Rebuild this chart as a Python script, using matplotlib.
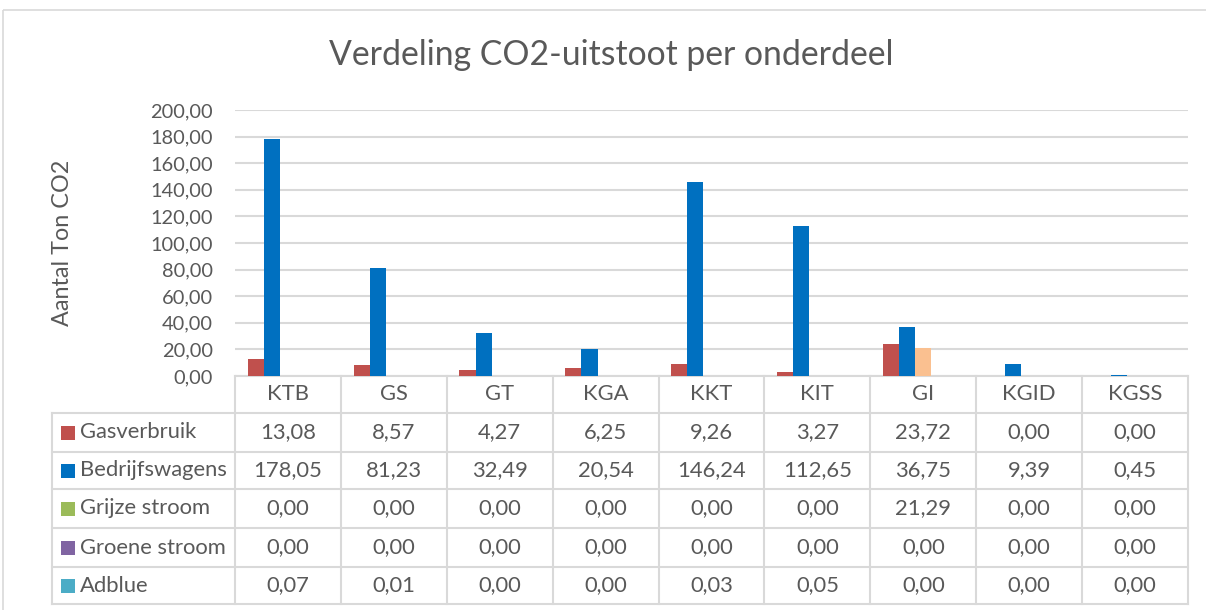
import matplotlib
matplotlib.use("Agg")
import matplotlib.pyplot as plt
from matplotlib.patches import Rectangle

categories = ["KTB", "GS", "GT", "KGA", "KKT", "KIT", "GI", "KGID", "KGSS"]
series_names = ["Gasverbruik", "Bedrijfswagens", "Grijze stroom", "Groene stroom", "Adblue"]
gasverbruik = [13.08, 8.57, 4.27, 6.25, 9.26, 3.27, 23.72, 0.00, 0.00]
bedrijfswagens = [178.05, 81.23, 32.49, 20.54, 146.24, 112.65, 36.75, 9.39, 0.45]
grijze_stroom = [0.00, 0.00, 0.00, 0.00, 0.00, 0.00, 21.29, 0.00, 0.00]
groene_stroom = [0.00, 0.00, 0.00, 0.00, 0.00, 0.00, 0.00, 0.00, 0.00]
adblue = [0.07, 0.01, 0.00, 0.00, 0.03, 0.05, 0.00, 0.00, 0.00]
yticks = [0, 20, 40, 60, 80, 100, 120, 140, 160, 180, 200]

series = [gasverbruik, bedrijfswagens, grijze_stroom, groene_stroom, adblue]
legend_colors = ["#C0504D", "#0070C0", "#9BBB59", "#8064A2", "#4BACC6"]
bar_colors = ["#C0504D", "#0070C0", "#FAC090", "#8064A2", "#4BACC6"]
TXT = "#595959"
GRID = "#D9D9D9"
FONT = "Lato"
FS = 15.8

W, H = 1206, 610
fig = plt.figure(figsize=(W / 100, H / 100), dpi=100)

def fx(px):
    return px / W

def fy(py):
    return 1 - py / H

# overlay axes in pixel coordinates for table and frame
ov = fig.add_axes([0, 0, 1, 1])
ov.set_xlim(0, W)
ov.set_ylim(H, 0)
ov.axis("off")
ov.add_patch(Rectangle((3, 10), W + 10, H + 10, fill=False, ec=GRID, lw=1.2))

# main plot axes
x0, x1 = 235, 1188
ytop, ybot = 110, 376
ax = fig.add_axes([fx(x0), fy(ybot), fx(x1) - fx(x0), fy(ytop) - fy(ybot)])
ax.set_zorder(2)
ax.patch.set_alpha(0)
n = len(categories)
bw = 0.152
for j, vals in enumerate(series):
    xs = [i + (j - 2) * bw for i in range(n)]
    ax.bar(xs, vals, width=bw, color=bar_colors[j], zorder=3, linewidth=0)
ax.set_xlim(-0.5, n - 0.5)
ax.set_ylim(0, 200)
ax.set_yticks(yticks)
ax.set_yticklabels([f"{v:.2f}".replace(".", ",") for v in yticks], fontsize=14.4,
                   color=TXT, family=FONT)
ax.set_xticks([])
ax.grid(axis="y", color=GRID, lw=1.5, zorder=0)
for s in ax.spines.values():
    s.set_visible(False)
ax.tick_params(axis="y", length=0, pad=16)
ax.set_ylabel("Aantal Ton CO2", fontsize=16.8, color=TXT, family=FONT)
ax.yaxis.set_label_coords((73 - x0) / (x1 - x0), 0.5)

fig.text(0.5 * (330 + 893) / W, fy(55), "Verdeling CO2-uitstoot per onderdeel", ha="center",
         va="center", fontsize=24.3, color=TXT, family=FONT)

# data table
tl = 52
row_tops = [376, 413, 452, 489, 528, 567, 604]
cw = (x1 - x0) / n
lc = dict(color=GRID, lw=1.5)
ov.plot([x0, x1], [row_tops[0], row_tops[0]], **lc)
for yy in row_tops[1:]:
    ov.plot([tl, x1], [yy, yy], **lc)
ov.plot([tl, tl], [row_tops[1], row_tops[-1]], **lc)
for i in range(n + 1):
    xx = x0 + i * cw
    ov.plot([xx, xx], [row_tops[0], row_tops[-1]], **lc)
for i, c in enumerate(categories):
    ov.text(x0 + (i + 0.5) * cw, (row_tops[0] + row_tops[1]) / 2, c, ha="center",
            va="center", fontsize=FS, color=TXT, family=FONT)
for r, (name, vals) in enumerate(zip(series_names, series)):
    yc = (row_tops[r + 1] + row_tops[r + 2]) / 2
    ov.add_patch(Rectangle((61, yc - 7), 14, 14, color=legend_colors[r], lw=0))
    ov.text(80, yc, name, ha="left", va="center", fontsize=FS, color=TXT, family=FONT)
    for i, v in enumerate(vals):
        ov.text(x0 + (i + 0.5) * cw, yc, f"{v:.2f}".replace(".", ","), ha="center",
                va="center", fontsize=FS, color=TXT, family=FONT)

fig.savefig("out.png", dpi=100)
